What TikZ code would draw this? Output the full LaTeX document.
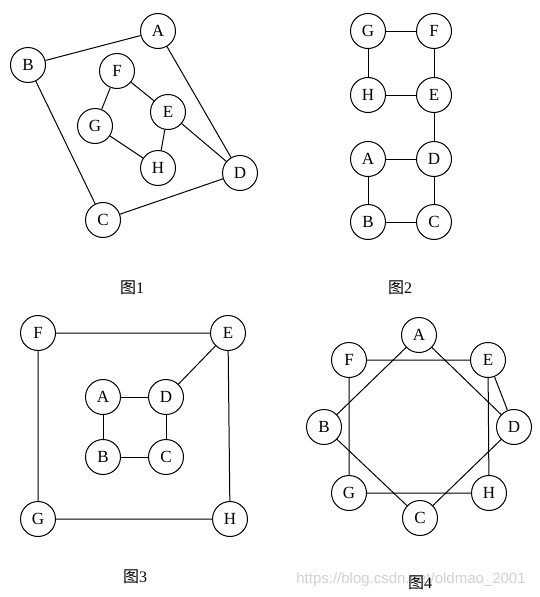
\documentclass[tikz,border=0pt]{standalone}
\usepackage{fontspec}
\setmainfont{Liberation Serif}
\newfontfamily\cjk{Noto Sans CJK SC}
\newfontfamily\wmfont{Liberation Sans}

\tikzset{
  vtx/.style={draw, circle, line width=1pt, minimum size=35pt, inner sep=0pt, font=\fontsize{17}{17}\selectfont},
  edge/.style={line width=1pt},
  figcap/.style={font=\fontsize{16}{16}\selectfont}
}

\begin{document}
\begin{tikzpicture}[x=1pt, y=-1pt]

    \useasboundingbox (0,0) rectangle (540,597);

    % 图1
    \node[vtx] (A1) at (158,31) {A};
    \node[vtx] (B1) at (28,65) {B};
    \node[vtx] (F1) at (117,71) {F};
    \node[vtx] (E1) at (168,112) {E};
    \node[vtx] (G1) at (95,126) {G};
    \node[vtx] (H1) at (158,168) {H};
    \node[vtx] (D1) at (240,173) {D};
    \node[vtx] (C1) at (103,220) {C};
    \draw[edge] (A1) -- (B1) (A1) -- (D1) (B1) -- (C1) (C1) -- (D1);
    \draw[edge] (F1) -- (G1) (F1) -- (E1) (E1) -- (H1) (G1) -- (H1) (E1) -- (D1);
    \node[figcap] (t1) at (132,288) {{\cjk 图}1};

    % 图2
    \node[vtx] (G2) at (368,31) {G};
    \node[vtx] (F2) at (434,31) {F};
    \node[vtx] (H2) at (368,95) {H};
    \node[vtx] (E2) at (434,95) {E};
    \node[vtx] (A2) at (368,159) {A};
    \node[vtx] (D2) at (434,159) {D};
    \node[vtx] (B2) at (368,222) {B};
    \node[vtx] (C2) at (434,222) {C};
    \draw[edge] (G2) -- (F2) (G2) -- (H2) (F2) -- (E2) (H2) -- (E2) (E2) -- (D2);
    \draw[edge] (A2) -- (D2) (A2) -- (B2) (D2) -- (C2) (B2) -- (C2);
    \node[figcap] (t2) at (400,288) {{\cjk 图}2};

    % 图3
    \node[vtx] (F3) at (38,333) {F};
    \node[vtx] (E3) at (228,333) {E};
    \node[vtx] (A3) at (103,397) {A};
    \node[vtx] (D3) at (166,397) {D};
    \node[vtx] (B3) at (103,457) {B};
    \node[vtx] (C3) at (166,457) {C};
    \node[vtx] (G3) at (38,519) {G};
    \node[vtx] (H3) at (230,519) {H};
    \draw[edge] (F3) -- (E3) (F3) -- (G3) (G3) -- (H3) (E3) -- (H3) (E3) -- (D3);
    \draw[edge] (A3) -- (D3) (A3) -- (B3) (B3) -- (C3) (D3) -- (C3);
    \node[figcap] (t3) at (135,577) {{\cjk 图}3};

    % 图4
    \node[vtx] (A4) at (419,335) {A};
    \node[vtx] (F4) at (349,360) {F};
    \node[vtx] (E4) at (488,360) {E};
    \node[vtx] (B4) at (324,427) {B};
    \node[vtx] (D4) at (514,427) {D};
    \node[vtx] (G4) at (349,493) {G};
    \node[vtx] (H4) at (489,493) {H};
    \node[vtx] (C4) at (420,518) {C};
    \draw[edge] (A4) -- (B4) (A4) -- (D4) (B4) -- (C4) (C4) -- (D4);
    \draw[edge] (F4) -- (E4) (F4) -- (G4) (G4) -- (H4) (E4) -- (H4) (E4) -- (D4);

    % 水印
    \node[font=\wmfont\fontsize{15}{15}\selectfont, text=black!18] (wm) at (411,580) {https://blog.csdn.net/oldmao\_2001};
    \node[figcap] (t4) at (420,583) {{\cjk 图}4};

  \end{tikzpicture}
\end{document}
